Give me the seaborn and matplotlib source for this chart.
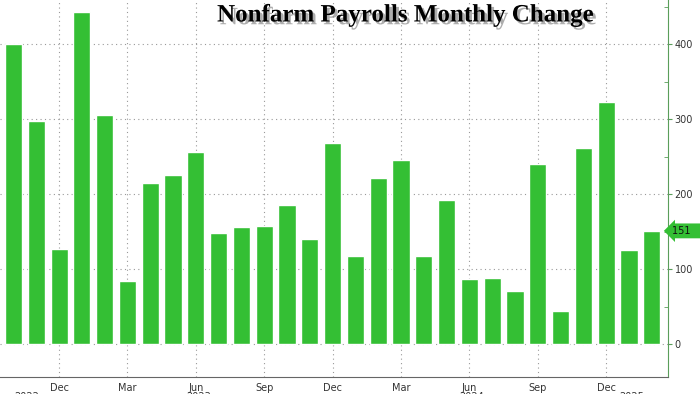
import matplotlib
matplotlib.use("Agg")
import matplotlib.pyplot as plt
import matplotlib.patheffects as pe
from matplotlib.ticker import MultipleLocator, FixedLocator
import seaborn as sns
import pandas as pd

# monthly change in nonfarm payrolls, thousands
months = ["Oct 2022", "Nov 2022", "Dec 2022",
          "Jan 2023", "Feb 2023", "Mar 2023", "Apr 2023", "May 2023", "Jun 2023",
          "Jul 2023", "Aug 2023", "Sep 2023", "Oct 2023", "Nov 2023", "Dec 2023",
          "Jan 2024", "Feb 2024", "Mar 2024", "Apr 2024", "May 2024", "Jun 2024",
          "Jul 2024", "Aug 2024", "Sep 2024", "Oct 2024", "Nov 2024", "Dec 2024",
          "Jan 2025", "Feb 2025"]
payrolls = [400, 297, 127,
            443, 305, 84, 215, 226, 256,
            148, 156, 157, 185, 140, 268,
            118, 221, 245, 117, 192, 87,
            88, 71, 240, 44, 261, 323,
            125, 151]
label_months = ["Dec", "Mar", "Jun", "Sep"]
years = ["2022", "2023", "2024", "2025"]
y_ticks = [0, 100, 200, 300, 400]

dosya = pd.DataFrame({"month": months, "change": payrolls})

green = "#34bf34"
axis_green = "#5a9e5a"

sns.set_style("white")
fig = plt.figure(figsize=(7, 3.94), dpi=100)
ax = fig.add_axes([0, 0.043, 0.954, 0.957])

sns.barplot(data=dosya, x="month", y="change", color=green, width=0.75,
            saturation=1, ax=ax, zorder=3)

ax.set_xlim(-0.59, 28.7)
ax.set_ylim(-44, 459)
ax.set_xlabel("")
ax.set_ylabel("")

# x axis: every month ticked, quarter months labelled
pos = [i for i, m in enumerate(months) if m.split()[0] in label_months]
ax.set_xticks(pos)
ax.set_xticklabels([months[i].split()[0] for i in pos])
ax.xaxis.set_minor_locator(FixedLocator(range(len(months))))
ax.tick_params(axis="x", which="both", length=3, color="#666",
               labelsize=7, labelcolor="#333", pad=1)

# y axis on the right
ax.set_yticks(y_ticks)
ax.yaxis.set_minor_locator(MultipleLocator(50))
ax.yaxis.tick_right()
ax.tick_params(axis="y", which="major", direction="out", length=3,
               color=axis_green, labelsize=7, labelcolor="#333", pad=2)
ax.tick_params(axis="y", which="minor", direction="in", length=3, color=axis_green)

ax.set_axisbelow(True)
ax.grid(True, which="major", ls=(0, (1, 3)), color="#999", lw=0.8)

for s in ["left", "top"]:
    ax.spines[s].set_visible(False)
ax.spines["right"].set_color(axis_green)
ax.spines["bottom"].set_color("#666")

# year labels under the months
year_pos = []
for y in years:
    idx = [i for i, m in enumerate(months) if m.endswith(y)]
    year_pos.append(sum(idx) / len(idx) - 0.4)
sec = ax.secondary_xaxis("bottom")
sec.set_xticks(year_pos, labels=years)
sec.tick_params(length=0, pad=11, labelsize=7, labelcolor="#333")
sec.spines["bottom"].set_visible(False)

# last value tag
ax.annotate(f"{payrolls[-1]}     ", xy=(1, payrolls[-1]),
            xycoords=("axes fraction", "data"), xytext=(3, 0),
            textcoords="offset points", va="center", ha="left",
            fontsize=7, color="#111",
            bbox=dict(boxstyle="larrow,pad=0.25", fc=green, ec="none"))

fig.text(0.579, 0.962, "Nonfarm Payrolls Monthly Change", ha="center", va="center",
         fontsize=18, fontweight="bold", family="Liberation Serif", color="black",
         path_effects=[pe.SimplePatchShadow(offset=(2, -2), shadow_rgbFace="#777", alpha=0.6),
                       pe.Normal()])

fig.savefig("out.png", dpi=100)
